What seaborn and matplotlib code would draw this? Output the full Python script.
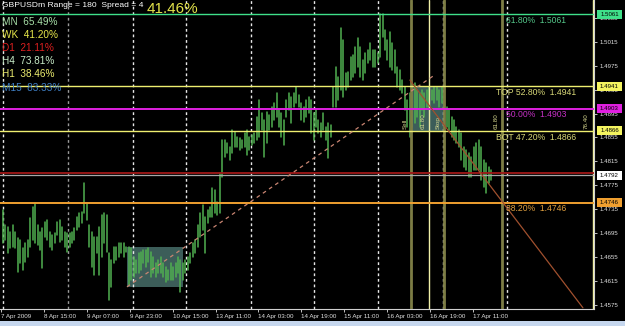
import numpy as np
import pandas as pd
import matplotlib
matplotlib.use("Agg")
import matplotlib.pyplot as plt
import matplotlib.transforms as mtransforms
from matplotlib.patches import Rectangle
import seaborn as sns

# ---------------- data ----------------
highs = [
    1.4734, 1.4709, 1.4705, 1.4697, 1.4709, 1.4697, 1.4687, 1.4683, 1.4670, 1.4678,
    1.4683, 1.4720, 1.4739, 1.4745, 1.4709, 1.4697, 1.4704, 1.4714, 1.4717, 1.4697,
    1.4692, 1.4695, 1.4714, 1.4717, 1.4705, 1.4697, 1.4695, 1.4695, 1.4697, 1.4704,
    1.4722, 1.4729, 1.4730, 1.4779, 1.4745, 1.4709, 1.4697, 1.4689, 1.4689, 1.4705,
    1.4725, 1.4729, 1.4725, 1.4662, 1.4650, 1.4672, 1.4672, 1.4678, 1.4678, 1.4678,
    1.4672, 1.4672, 1.4670, 1.4655, 1.4650, 1.4662, 1.4663, 1.4667, 1.4667, 1.4670,
    1.4663, 1.4655, 1.4645, 1.4650, 1.4655, 1.4645, 1.4638, 1.4633, 1.4645, 1.4638,
    1.4645, 1.4655, 1.4650, 1.4645, 1.4650, 1.4655, 1.4662, 1.4678, 1.4683, 1.4709,
    1.4729, 1.4742, 1.4722, 1.4734, 1.4739, 1.4770, 1.4767, 1.4747, 1.4796, 1.4851,
    1.4851, 1.4846, 1.4839, 1.4867, 1.4864, 1.4856, 1.4854, 1.4851, 1.4862, 1.4867,
    1.4856, 1.4859, 1.4862, 1.4889, 1.4918, 1.4896, 1.4884, 1.4898, 1.4893, 1.4906,
    1.4913, 1.4929, 1.4901, 1.4896, 1.4884, 1.4918, 1.4929, 1.4923, 1.4929, 1.4939,
    1.4926, 1.4913, 1.4906, 1.4918, 1.4923, 1.4918, 1.4896, 1.4901, 1.4884, 1.4879,
    1.4896, 1.4873, 1.4879, 1.4876, 1.4939, 1.4973, 1.4956, 1.5038, 1.5018, 1.4963,
    1.4965, 1.4990, 1.4993, 1.5006, 1.5021, 1.5006, 1.4985, 1.4996, 1.5001, 1.5013,
    1.5001, 1.5001, 1.4996, 1.5061, 1.5061, 1.5035, 1.5018, 1.5031, 1.5013, 1.5001,
    1.4973, 1.4968, 1.4951, 1.4939, 1.4918, 1.4929, 1.4946, 1.4946, 1.4934, 1.4929,
    1.4934, 1.4929, 1.4934, 1.4939, 1.4934, 1.4939, 1.4939, 1.4934, 1.4939, 1.4929,
    1.4906, 1.4901, 1.4889, 1.4884, 1.4873, 1.4867, 1.4862, 1.4839, 1.4834, 1.4829,
    1.4822, 1.4839, 1.4846, 1.4851, 1.4839, 1.4817, 1.4812, 1.4806, 1.4801,
]
lows = [
    1.4678, 1.4683, 1.4662, 1.4670, 1.4672, 1.4670, 1.4630, 1.4645, 1.4633, 1.4647,
    1.4655, 1.4672, 1.4683, 1.4678, 1.4675, 1.4667, 1.4637, 1.4689, 1.4683, 1.4672,
    1.4667, 1.4678, 1.4692, 1.4680, 1.4683, 1.4672, 1.4663, 1.4672, 1.4678, 1.4683,
    1.4700, 1.4705, 1.4712, 1.4729, 1.4717, 1.4672, 1.4638, 1.4625, 1.4662, 1.4625,
    1.4655, 1.4678, 1.4663, 1.4583, 1.4605, 1.4645, 1.4650, 1.4655, 1.4662, 1.4655,
    1.4663, 1.4608, 1.4617, 1.4622, 1.4628, 1.4628, 1.4633, 1.4645, 1.4638, 1.4647,
    1.4622, 1.4628, 1.4622, 1.4628, 1.4628, 1.4622, 1.4613, 1.4617, 1.4617, 1.4617,
    1.4622, 1.4628, 1.4597, 1.4617, 1.4628, 1.4633, 1.4645, 1.4655, 1.4662, 1.4672,
    1.4689, 1.4700, 1.4662, 1.4712, 1.4722, 1.4722, 1.4729, 1.4725, 1.4729, 1.4789,
    1.4822, 1.4829, 1.4817, 1.4829, 1.4839, 1.4839, 1.4834, 1.4837, 1.4839, 1.4826,
    1.4834, 1.4842, 1.4846, 1.4851, 1.4856, 1.4867, 1.4822, 1.4846, 1.4867, 1.4873,
    1.4884, 1.4889, 1.4873, 1.4856, 1.4842, 1.4889, 1.4901, 1.4879, 1.4906, 1.4913,
    1.4906, 1.4884, 1.4881, 1.4889, 1.4896, 1.4862, 1.4851, 1.4873, 1.4862, 1.4856,
    1.4867, 1.4851, 1.4821, 1.4856, 1.4906, 1.4906, 1.4918, 1.4934, 1.4923, 1.4934,
    1.4939, 1.4951, 1.4956, 1.4963, 1.4973, 1.4956, 1.4951, 1.4963, 1.4980, 1.4985,
    1.4973, 1.4973, 1.4980, 1.4990, 1.5023, 1.5001, 1.4985, 1.4973, 1.4968, 1.4963,
    1.4939, 1.4934, 1.4929, 1.4901, 1.4873, 1.4856, 1.4873, 1.4879, 1.4889, 1.4873,
    1.4901, 1.4889, 1.4906, 1.4906, 1.4918, 1.4913, 1.4918, 1.4906, 1.4913, 1.4906,
    1.4873, 1.4867, 1.4856, 1.4851, 1.4846, 1.4839, 1.4817, 1.4806, 1.4801, 1.4789,
    1.4789, 1.4801, 1.4801, 1.4801, 1.4784, 1.4772, 1.4762, 1.4779, 1.4784,
]

time_labels = ["7 Apr 2009", "8 Apr 15:00", "9 Apr 07:00", "9 Apr 23:00",
               "10 Apr 15:00", "13 Apr 11:00", "14 Apr 03:00", "14 Apr 19:00",
               "15 Apr 11:00", "16 Apr 03:00", "16 Apr 19:00", "17 Apr 11:00"]

price_ticks = [1.5055, 1.5015, 1.4975, 1.4935, 1.4895, 1.4855, 1.4815,
               1.4775, 1.4735, 1.4695, 1.4655, 1.4615, 1.4575]

# Fibonacci / zone levels
level_prices = [1.5061, 1.4941, 1.4903, 1.4866, 1.4746]
level_texts = ["61.80%  1.5061", "TOP 52.80%  1.4941", "50.00%  1.4903",
               "BOT 47.20%  1.4866", "38.20%  1.4746"]
bid_price = 1.4792
red_line_price = 1.4795

# day separators and time-zone verticals (bar positions)
day_separators = [0.0, 26.4, 52.7, 74.3, 100.6, 126.2, 152.2, 178.5, 204.5]
time_zone_bars = [165.5, 172.8, 178.9, 202.5, 239.2]
time_zone_texts = ["Sell", "61.80", "Stop", "61.80", "76.40"]

# rectangles: (bar start, bar end, price low, price high)
box_a = (50.3, 73.0, 1.4605, 1.4672)
box_b = (165.5, 178.9, 1.4866, 1.4941)

# trendlines: ((bar, price), (bar, price))
fibo_base = ((50.3, 1.4605), (175.3, 1.4960))
down_line = ((165.1, 1.4951), (235.3, 1.4570))

info_rows = ["MN  65.49%", "WK  41.20%", "D1  21.11%", "H4  73.81%",
             "H1  38.46%", "M15  83.33%"]
title_text = "GBPUSDm Range = 180  Spread = 4"
range_pct = "41.46%"

# ---------------- style ----------------
sns.set_theme(style="dark")
plt.rcParams["font.family"] = ["Liberation Sans", "DejaVu Sans"]

W, H = 625, 326
fig = plt.figure(figsize=(W / 100, H / 100), dpi=100, facecolor="black")
PLOT_R, PLOT_B = 594, 309
ax = fig.add_axes([0, (H - PLOT_B) / H, PLOT_R / W, PLOT_B / H])
ax.set_facecolor("black")

BAR_PX = 2.4646
X0_PX = 3.0
ax.set_xlim(-X0_PX / BAR_PX, (PLOT_R - X0_PX) / BAR_PX)
ax.set_ylim(1.4568, 1.5085)

n = len(highs)
idx = np.arange(n)
df = pd.DataFrame({
    "bar": np.repeat(idx, 2),
    "price": np.ravel(np.column_stack([lows, highs])),
})

# rectangles (background)
for (b0, b1, p0, p1) in (box_a, box_b):
    ax.add_patch(Rectangle((b0, p0), b1 - b0, p1 - p0, facecolor="#3c5d59",
                           edgecolor="none", zorder=0.5))

# day separators
for k, b in enumerate(day_separators):
    ax.axvline(b, color="#9a9a9a" if k == 1 else "#e8e8e8", lw=1.0,
               ls=(0, (2, 2)), zorder=1)

# bars via seaborn
sns.lineplot(data=df, x="bar", y="price", units="bar", estimator=None,
             sort=False, color="#50b050", lw=1.1, ax=ax, legend=False, zorder=2)

# time zone verticals
tz_colors = ["#7d7d45", "#f0f0a8", "#7d7d45", "#7d7d45", "#f0f0a8"]
tz_lw = [2.0, 1.0, 2.0, 2.0, 1.0]
for b, c, lw_, t in zip(time_zone_bars, tz_colors, tz_lw, time_zone_texts):
    ax.axvline(b, color=c, lw=lw_, zorder=3)
    ax.annotate(t, xy=(b, level_prices[3]), xytext=(-2.5, 1.5),
                textcoords="offset points", rotation=90, ha="right", va="bottom",
                fontsize=4.5, color="#d8d890", zorder=5)

# horizontal levels
lvl_colors = ["#3fe08a", "#eeee70", "#e020e0", "#eeee70", "#f0a030"]
lvl_lw = [1.0, 1.0, 1.4, 1.0, 1.4]
txt_colors = ["#55c88a", "#d8d878", "#c530c5", "#d8d878", "#e0a040"]
txt_x = [204.1, 200.0, 204.1, 200.0, 204.1]
for p, c, lw_, t, tc, tx in zip(level_prices, lvl_colors, lvl_lw, level_texts,
                                 txt_colors, txt_x):
    ax.axhline(p, color=c, lw=lw_, zorder=3)
    ax.annotate(t, xy=(tx, p), xytext=(0, -1.2), textcoords="offset points",
                ha="left", va="top", fontsize=6.2, color=tc, zorder=5)

ax.axhline(red_line_price, color="#a01818", lw=1.3, zorder=3)
ax.axhline(bid_price, color="#a8a8a8", lw=0.9, zorder=3)

# trendlines
(fx0, fy0), (fx1, fy1) = fibo_base
ax.plot([fx0, fx1], [fy0, fy1], color="#c98572", lw=0.9, ls=(0, (3, 3)), zorder=4)
(dx0, dy0), (dx1, dy1) = down_line
ax.plot([dx0, dx1], [dy0, dy1], color="#a0502e", lw=0.9, zorder=4)

ax.set_xlabel("")
ax.set_ylabel("")

# axes ticks
tick_pos = [(1.0 + 42.9 * k - X0_PX) / BAR_PX for k in range(len(time_labels))]
ax.set_xticks(tick_pos)
ax.set_xticklabels(time_labels, ha="left")
ax.yaxis.tick_right()
ax.set_yticks(price_ticks)
ax.set_yticklabels([f"{v:.4f}" for v in price_ticks])
ax.tick_params(axis="x", colors="#e0e0e0", labelsize=4.5, length=2, width=0.6,
               pad=1.5, direction="out", bottom=True)
ax.tick_params(axis="y", colors="#e0e0e0", labelsize=4.4, length=2.2, width=0.6,
               pad=2.0, direction="out", right=True, left=False)
ax.grid(False)
for s in ["top", "left"]:
    ax.spines[s].set_visible(False)
for s in ["bottom", "right"]:
    ax.spines[s].set_color("#d0d0d0")
    ax.spines[s].set_linewidth(0.8)

# price label boxes on the right axis
box_tr = mtransforms.blended_transform_factory(fig.transFigure, ax.transData)
box_prices = [1.5061, 1.4941, 1.4903, 1.4866, bid_price, 1.4746]
box_fc = ["#3fe08a", "#f4f460", "#e020e0", "#f4f460", "#ffffff", "#f0a030"]
for p, fc in zip(box_prices, box_fc):
    fig.patches.append(Rectangle((597 / W, p - 0.00076), 25 / W, 0.00152,
                                 transform=box_tr, facecolor=fc, edgecolor="none",
                                 zorder=6))
    fig.text(609.5 / W, p, f"{p:.4f}", transform=box_tr, ha="center", va="center",
             fontsize=4.4, color="black", zorder=7)

# info text (top left)
fig.text(2 / W, 1 - 2 / H, title_text, ha="left", va="top", fontsize=6.1,
         color="white")
fig.text(147 / W, 1 - 2 / H, range_pct, ha="left", va="top", fontsize=11,
         color="#e2e24a")
info_colors = ["#a8e0a8", "#e8e84a", "#e02020", "#c8ecc8", "#eeee70", "#3f7fc4"]
info_y = [22, 35, 48, 61, 74, 88]
for t, c, yy in zip(info_rows, info_colors, info_y):
    fig.text(2 / W, 1 - yy / H, t, ha="left", va="center", fontsize=7.2, color=c)

# bottom window strip
fig.patches.append(Rectangle((0, 0), 1, 5 / H, transform=fig.transFigure,
                             facecolor="#c6d7ee", edgecolor="none", zorder=0))

fig.savefig("out.png", dpi=100, facecolor="black")
